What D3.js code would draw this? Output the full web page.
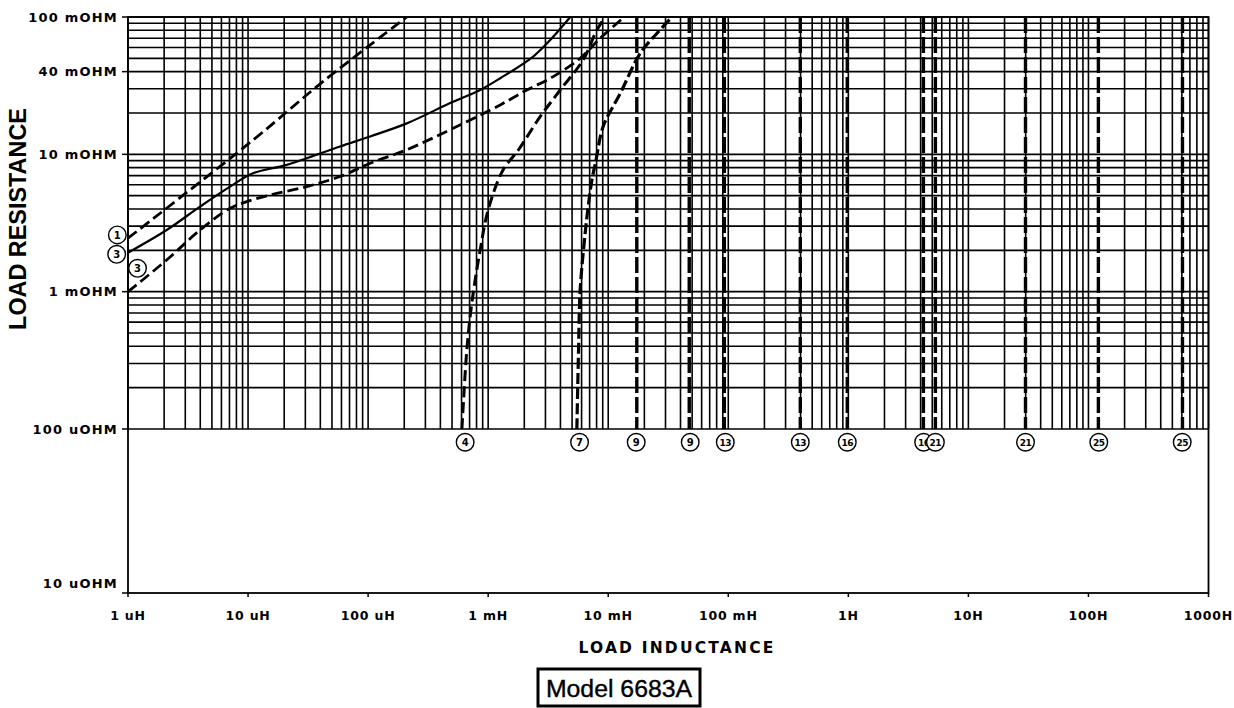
<!DOCTYPE html>
<html><head><meta charset="utf-8">
<script src="https://cdn.jsdelivr.net/npm/d3@7"></script>
<style>html,body{margin:0;padding:0;background:#fff}svg{display:block}</style>
</head><body><svg id="chart" width="1234" height="708"></svg>
<script>
// ---------- data ----------
const xTickValues = [1e-6, 1e-5, 1e-4, 1e-3, 1e-2, 1e-1, 1, 10, 100, 1000];
const xTickLabels = ["1 uH", "10 uH", "100 uH", "1 mH", "10 mH", "100 mH", "1H", "10H", "100H", "1000H"];
const yTickValues = [0.1, 0.04, 0.01, 0.001, 1e-4, 1e-5];
const yTickLabels = ["100 mOHM", "40 mOHM", "10 mOHM", "1 mOHM", "100 uOHM", "10 uOHM"];

// curves: [inductance (H), resistance (ohm)]
const curve1 = [[1e-6, 2.45e-3], [1.1e-5, 1.27e-2], [4.2e-5, 3.38e-2], [2.1e-4, 0.1]];
const curve3 = [[1e-6, 1.92e-3], [2.1e-6, 2.81e-3], [3.98e-6, 4.16e-3], [7.08e-6, 5.82e-3], [1.1e-5, 7.28e-3],
  [2.1e-5, 8.38e-3], [5.84e-5, 1.14e-2], [1.04e-4, 1.35e-2], [2.1e-4, 1.68e-2], [4.82e-4, 2.36e-2],
  [8.58e-4, 2.94e-2], [1.26e-3, 3.58e-2], [2.37e-3, 5.15e-2], [3.29e-3, 6.81e-2], [4.83e-3, 0.1]];
const curve3b = [[1e-6, 1.0e-3], [2.1e-6, 1.7e-3], [3.98e-6, 2.81e-3], [7.08e-6, 4.05e-3], [9.75e-6, 4.52e-3],
  [1.53e-5, 5.06e-3], [3.08e-5, 5.82e-3], [5.84e-5, 6.89e-3], [1.04e-4, 8.61e-3], [2.1e-4, 1.08e-2],
  [4.82e-4, 1.51e-2], [1.26e-3, 2.29e-2], [2.1e-3, 2.94e-2], [3.48e-3, 3.68e-2], [5.84e-3, 5.01e-2],
  [8.58e-3, 7.01e-2], [1.36e-2, 0.1]];
const curve4 = [[6.04e-4, 1e-4], [6.22e-4, 1.55e-4], [6.64e-4, 3.76e-4], [7.31e-4, 8.28e-4], [8.58e-4, 2.01e-3],
  [1.0e-3, 3.94e-3], [1.33e-3, 7.69e-3], [1.79e-3, 1.08e-2], [2.71e-3, 1.88e-2], [3.98e-3, 2.94e-2],
  [6.19e-3, 4.88e-2], [8.05e-3, 8.05e-2], [9.44e-3, 0.1]];
const curve7 = [[5.48e-3, 1e-4], [5.66e-3, 3.76e-4], [5.84e-3, 1.03e-3], [6.43e-3, 2.68e-3], [6.81e-3, 4.16e-3],
  [7.31e-3, 6.51e-3], [7.9e-3, 9.0e-3], [9.09e-3, 1.6e-2], [1.26e-2, 2.78e-2], [1.85e-2, 5.45e-2],
  [2.55e-2, 7.62e-2], [3.40e-2, 0.1]];
// vertical limit lines (inductance, H), spanning 100 uOHM .. 100 mOHM
const verticalL = [1.73e-2, 4.73e-2, 9.27e-2, 0.398, 0.98, 4.22, 5.31, 29.9, 121, 607];
const verticalR = [1e-4, 0.1];

// circled curve labels
const leftLabelText = ["1", "3", "3"];
const leftLabelL = [8.15e-7, 8.05e-7, 1.2e-6];
const leftLabelR = [2.59e-3, 1.87e-3, 1.48e-3];
const bottomLabelText = ["4", "7", "9", "9", "13", "13", "16", "16", "21", "21", "25", "25"];
const bottomLabelL = [6.43e-4, 5.77e-3, 1.71e-2, 4.82e-2, 9.44e-2, 0.398, 0.98, 4.24, 5.31, 29.9, 122, 604];
const bottomLabelR = 8.3e-5;

// ---------- drawing ----------
const svg = d3.select("#chart");
const x = d3.scaleLog().domain([1e-6, 1e3]).range([128, 1208.5]);
const y = d3.scaleLog().domain([1e-5, 1e-4, 1e-1]).range([593, 429, 17]);

const gridTop = y(0.1), gridBottom = y(1e-4);
const g = svg.append("g");

// grid values
const xGrid = [], yGrid = [];
for (let e = -6; e < 3; e++) for (let k = 1; k <= 9; k++) xGrid.push(k * Math.pow(10, e));
xGrid.push(1000);
for (let e = -4; e < -1; e++) for (let k = 1; k <= 9; k++) yGrid.push(k * Math.pow(10, e));
yGrid.push(0.1);

g.selectAll("line.vg").data(xGrid).join("line").attr("class", "vg")
  .attr("x1", d => x(d)).attr("x2", d => x(d))
  .attr("y1", gridTop).attr("y2", gridBottom)
  .attr("stroke", "#000").attr("stroke-width", 1.6);
g.selectAll("line.hg").data(yGrid).join("line").attr("class", "hg")
  .attr("x1", x(1e-6)).attr("x2", x(1e3))
  .attr("y1", d => y(d)).attr("y2", d => y(d))
  .attr("stroke", "#000").attr("stroke-width", 1.6);

// frame
g.append("rect").attr("x", x(1e-6)).attr("y", y(0.1))
  .attr("width", x(1e3) - x(1e-6)).attr("height", y(1e-5) - y(0.1))
  .attr("fill", "none").attr("stroke", "#000").attr("stroke-width", 1.8);

// left ticks + labels
const labelFont = "'DejaVu Sans', sans-serif";
yTickValues.forEach((v, i) => {
  g.append("line").attr("x1", x(1e-6) - 6).attr("x2", x(1e-6))
    .attr("y1", y(v)).attr("y2", y(v)).attr("stroke", "#000").attr("stroke-width", 1.5);
  const ly = Math.min(y(v), y(1e-5) - 10);
  g.append("text").attr("x", x(1e-6) - 10).attr("y", ly).attr("dy", "0.36em")
    .attr("text-anchor", "end").attr("font-family", labelFont).attr("font-weight", "bold")
    .attr("font-size", 13).style("letter-spacing", "1.2px").text(yTickLabels[i]);
});

// bottom ticks + labels
xTickValues.forEach((v, i) => {
  g.append("line").attr("x1", x(v)).attr("x2", x(v))
    .attr("y1", y(1e-5)).attr("y2", y(1e-5) + 4).attr("stroke", "#000").attr("stroke-width", 1.5);
  g.append("text").attr("x", x(v)).attr("y", y(1e-5) + 27)
    .attr("text-anchor", "middle").attr("font-family", labelFont).attr("font-weight", "bold")
    .attr("font-size", 12.5).style("letter-spacing", "0.8px").text(xTickLabels[i]);
});

// axis titles
svg.append("text").attr("x", 677).attr("y", 653).attr("text-anchor", "middle")
  .attr("font-family", labelFont).attr("font-weight", "bold").attr("font-size", 15.5)
  .style("letter-spacing", "2.2px").text("LOAD INDUCTANCE");
svg.append("text").attr("transform", "translate(26,219) rotate(-90)").attr("text-anchor", "middle")
  .attr("font-family", "'Liberation Sans', Arial, sans-serif").attr("font-weight", "bold")
  .attr("font-size", 23.4).text("LOAD RESISTANCE");

// model box
svg.append("rect").attr("x", 538).attr("y", 669).attr("width", 162).attr("height", 37)
  .attr("fill", "#fff").attr("stroke", "#000").attr("stroke-width", 3);
svg.append("text").attr("x", 619).attr("y", 697).attr("text-anchor", "middle")
  .attr("font-family", "'Liberation Sans', Arial, sans-serif").attr("font-size", 24.8)
  .attr("stroke", "#000").attr("stroke-width", 0.4)
  .text("Model 6683A");

// curves
const line = d3.line().x(d => x(d[0])).y(d => y(d[1])).curve(d3.curveCatmullRom.alpha(0.5));
const curves = [
  {data: curve1, dash: "11,5", w: 2.8},
  {data: curve3, dash: null, w: 2.2},
  {data: curve3b, dash: "11,5", w: 2.8},
  {data: curve4, dash: "11,5", w: 3},
  {data: curve7, dash: "11,4", w: 3.2}
];
curves.forEach(c => {
  svg.append("path").attr("d", line(c.data)).attr("fill", "none")
    .attr("stroke", "#000").attr("stroke-width", c.w)
    .attr("stroke-dasharray", c.dash);
});

// vertical limit lines
svg.selectAll("line.vl").data(verticalL).join("line").attr("class", "vl")
  .attr("x1", d => x(d)).attr("x2", d => x(d))
  .attr("y1", y(verticalR[1])).attr("y2", y(verticalR[0]))
  .attr("stroke", "#000").attr("stroke-width", 3.4).attr("stroke-dasharray", "16,4");

// circled labels
function circLabel(cx, cy, t) {
  svg.append("circle").attr("cx", cx).attr("cy", cy).attr("r", 8.8)
    .attr("fill", "#fff").attr("stroke", "#000").attr("stroke-width", 1.4);
  svg.append("text").attr("x", cx).attr("y", cy).attr("dy", "0.36em").attr("text-anchor", "middle")
    .attr("font-family", labelFont).attr("font-weight", "bold")
    .attr("font-size", t.length > 1 ? 9 : 10).style("letter-spacing", t.length > 1 ? "-0.5px" : "0px")
    .text(t);
}
leftLabelText.forEach((t, i) => circLabel(x(leftLabelL[i]), y(leftLabelR[i]), t));
bottomLabelText.forEach((t, i) => circLabel(x(bottomLabelL[i]), y(bottomLabelR), t));
</script></body></html>
